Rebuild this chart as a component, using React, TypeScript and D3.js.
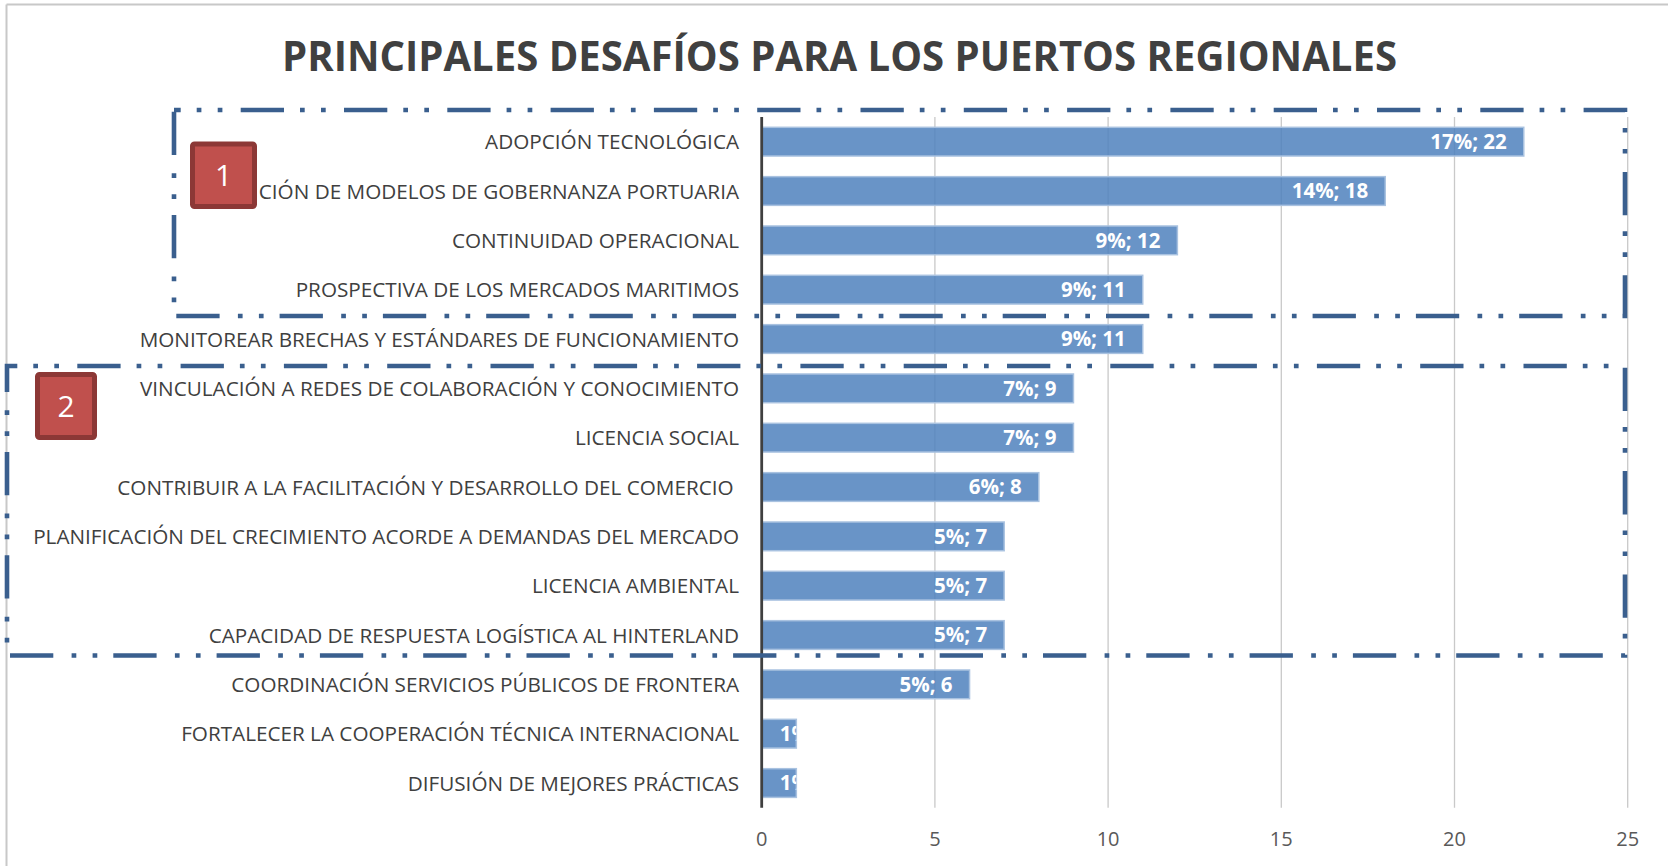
import React from "react";
import * as d3 from "d3";

const title = "PRINCIPALES DESAFÍOS PARA LOS PUERTOS REGIONALES";
const categories = [
  "ADOPCIÓN TECNOLÓGICA",
  "CIÓN DE MODELOS DE GOBERNANZA PORTUARIA",
  "CONTINUIDAD OPERACIONAL",
  "PROSPECTIVA DE LOS MERCADOS MARITIMOS",
  "MONITOREAR BRECHAS Y ESTÁNDARES DE FUNCIONAMIENTO",
  "VINCULACIÓN A REDES DE COLABORACIÓN Y CONOCIMIENTO",
  "LICENCIA SOCIAL",
  "CONTRIBUIR A LA FACILITACIÓN Y DESARROLLO DEL COMERCIO ",
  "PLANIFICACIÓN DEL CRECIMIENTO ACORDE A DEMANDAS DEL MERCADO",
  "LICENCIA AMBIENTAL",
  "CAPACIDAD DE RESPUESTA LOGÍSTICA AL HINTERLAND",
  "COORDINACIÓN SERVICIOS PÚBLICOS DE FRONTERA",
  "FORTALECER LA COOPERACIÓN TÉCNICA INTERNACIONAL",
  "DIFUSIÓN DE MEJORES PRÁCTICAS",
];
const values = [22, 18, 12, 11, 11, 9, 9, 8, 7, 7, 7, 6, 1, 1];
const percents = [17, 14, 9, 9, 9, 7, 7, 6, 5, 5, 5, 5, 1, 1];
const xTicks = [0, 5, 10, 15, 20, 25];
const groupLabels = ["1", "2"];

const W = 1668;
const H = 866;
const FONT = "'Open Sans', 'Noto Sans', sans-serif";

export default function App() {
  const x = d3.scaleLinear().domain([0, 25]).range([761.7, 1627.7]);
  const y = d3
    .scaleBand<string>()
    .domain(categories)
    .range([117, 807.7])
    .paddingInner(0.418)
    .paddingOuter(0.209);
  const bw = y.bandwidth();
  const plotTop = 117;
  const plotBottom = 807.7;

  const boxes = [
    { x: 174, y: 110, w: 1625 - 174, h: 316 - 110, off: 36.6 },
    { x: 7, y: 366, w: 1625 - 7, h: 655.5 - 366, off: 33 },
  ];
  const badges = [
    { x: 190, y: 141.5, w: 67, h: 67.5 },
    { x: 35, y: 372, w: 62, h: 68 },
  ];

  return (
    <svg
      width={W}
      height={H}
      style={{ position: "absolute", left: 0, top: 0, background: "#fff" }}
      fontFamily={FONT}
    >
      <defs>
        {categories.map((c, i) => (
          <clipPath id={`clip${i}`} key={i}>
            <rect x={x(0)} y={y(c)!} width={x(values[i]) - x(0)} height={bw} />
          </clipPath>
        ))}
      </defs>
      <rect x={0} y={0} width={W} height={H} fill="#fff" />
      {/* chart border */}
      <line x1={6.5} y1={4.5} x2={W} y2={4.5} stroke="#c8c8c8" strokeWidth={2} />
      <line x1={6.5} y1={4.5} x2={6.5} y2={H} stroke="#c8c8c8" strokeWidth={2} />

      {/* title */}
      <text
        x={839.5}
        y={70.7}
        textAnchor="middle"
        fontSize={42}
        fontWeight={700}
        fill="#404040"
        textLength={1115}
        lengthAdjust="spacingAndGlyphs"
      >
        {title}
      </text>

      {/* gridlines */}
      {xTicks
        .filter((t) => t > 0)
        .map((t) => (
          <line
            key={t}
            x1={x(t)}
            x2={x(t)}
            y1={plotTop}
            y2={plotBottom}
            stroke="#c9c9c9"
            strokeWidth={1.3}
          />
        ))}

      {/* bars */}
      {categories.map((c, i) => (
        <rect
          key={c}
          x={x(0)}
          y={y(c)!}
          width={x(values[i]) - x(0)}
          height={bw}
          fill="#4F81BD"
          fillOpacity={0.85}
          stroke="#A9C2E0"
          strokeWidth={1.5}
        />
      ))}

      {/* data labels */}
      {categories.map((c, i) => {
        const short = values[i] < 3;
        const cy = y(c)! + bw / 2;
        return (
          <g key={c} clipPath={short ? `url(#clip${i})` : undefined}>
            <text
              x={short ? x(0) + 18 : x(values[i]) - 17}
              y={cy + 7.3}
              textAnchor={short ? "start" : "end"}
              fontSize={20.5}
              fontWeight={700}
              fill="#ffffff"
            >
              {`${percents[i]}%; ${values[i]}`}
            </text>
          </g>
        );
      })}

      {/* axis line */}
      <line
        x1={x(0)}
        x2={x(0)}
        y1={plotTop}
        y2={plotBottom}
        stroke="#3f3f3f"
        strokeWidth={2.8}
      />

      {/* category labels */}
      {categories.map((c) => (
        <text
          key={c}
          x={739}
          y={y(c)! + bw / 2 + 7.6}
          textAnchor="end"
          fontSize={20.7}
          fill="#404040"
          style={{ whiteSpace: "pre" }}
        >
          {c}
        </text>
      ))}

      {/* tick labels */}
      {xTicks.map((t) => (
        <text
          key={t}
          x={x(t)}
          y={846}
          textAnchor="middle"
          fontSize={20}
          fill="#595959"
        >
          {t}
        </text>
      ))}

      {/* dashed group boxes */}
      {boxes.map((b, i) => (
        <rect
          key={i}
          x={b.x}
          y={b.y}
          width={b.w}
          height={b.h}
          fill="none"
          stroke="#3A5F8E"
          strokeWidth={4.6}
          strokeDasharray="43.3 16 4.7 16.3 4.7 18.3"
          strokeDashoffset={b.off}
        />
      ))}

      {/* badges */}
      {badges.map((b, i) => (
        <g key={i}>
          <rect
            x={b.x + 2.5}
            y={b.y + 2.5}
            width={b.w - 5}
            height={b.h - 5}
            rx={2}
            fill="#C0504D"
            stroke="#8C3836"
            strokeWidth={5}
          />
          <text
            x={b.x + b.w / 2}
            y={b.y + b.h / 2 + 11}
            textAnchor="middle"
            fontSize={30}
            fill="#ffffff"
          >
            {groupLabels[i]}
          </text>
        </g>
      ))}
    </svg>
  );
}
